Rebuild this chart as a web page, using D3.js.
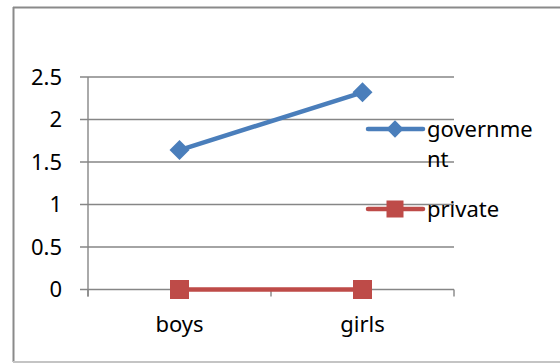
<!DOCTYPE html>
<html>
<head>
<meta charset="utf-8">
<script src="https://cdn.jsdelivr.net/npm/d3@7/dist/d3.min.js"></script>
<style>
  html, body { margin: 0; padding: 0; background: #fff; }
  svg { display: block; }
  text { font-family: "Noto Sans", "Open Sans", sans-serif; fill: #000; }
</style>
</head>
<body>
<div id="chart"></div>
<script>
// Categories on the x axis
const categories = ["boys", "girls"];
// Series values (one per category)
const governmentValues = [1.64, 2.32];
const privateValues = [0, 0];
// Y axis ticks
const yTicks = [0, 0.5, 1, 1.5, 2, 2.5];
// Legend entries
const legendLines = [["governme", "nt"], ["private"]];

const W = 560, H = 363;
const svg = d3.select("#chart").append("svg").attr("width", W).attr("height", H);

// Outer frame
svg.append("line").attr("x1", 13.5).attr("x2", 13.5).attr("y1", 7).attr("y2", 362)
  .attr("stroke", "#8a8a8a").attr("stroke-width", 2);
svg.append("line").attr("x1", 13).attr("x2", 560).attr("y1", 7.5).attr("y2", 7.5)
  .attr("stroke", "#8a8a8a").attr("stroke-width", 2);
svg.append("line").attr("x1", 13).attr("x2", 560).attr("y1", 362).attr("y2", 362)
  .attr("stroke", "#c4c4c4").attr("stroke-width", 2);

const plotLeft = 88, plotRight = 454, plotTop = 77, plotBottom = 289.5;

const x = d3.scaleBand().domain(categories).range([plotLeft, plotRight]);
const y = d3.scaleLinear().domain([0, 2.5]).range([plotBottom, plotTop]);

const gridColor = "#868686";

// Horizontal gridlines (extend left of axis as tick marks)
svg.append("g").selectAll("line").data(yTicks).join("line")
  .attr("x1", plotLeft - 8).attr("x2", plotRight)
  .attr("y1", d => y(d)).attr("y2", d => y(d))
  .attr("stroke", gridColor).attr("stroke-width", 1.4);

// Y axis line
svg.append("line").attr("x1", plotLeft).attr("x2", plotLeft)
  .attr("y1", y(2.5)).attr("y2", plotBottom + 7)
  .attr("stroke", gridColor).attr("stroke-width", 1.4);

// X axis tick marks at category boundaries
const boundaries = categories.map(c => x(c)).concat([x(categories[categories.length - 1]) + x.bandwidth()]);
svg.append("g").selectAll("line").data(boundaries).join("line")
  .attr("x1", d => d).attr("x2", d => d)
  .attr("y1", plotBottom).attr("y2", plotBottom + 7)
  .attr("stroke", gridColor).attr("stroke-width", 1.4);

// Y tick labels
svg.append("g").selectAll("text").data(yTicks).join("text")
  .attr("x", 62).attr("y", d => y(d)).attr("dy", "0.36em")
  .attr("text-anchor", "end").attr("font-size", 22)
  .text(d => d);

// X category labels
svg.append("g").selectAll("text").data(categories).join("text")
  .attr("x", d => x(d) + x.bandwidth() / 2).attr("y", 332)
  .attr("text-anchor", "middle").attr("font-size", 22)
  .text(d => d);

const blue = "#4a7ebb", red = "#be4b48";
const cx = c => x(c) + x.bandwidth() / 2;
const line = d3.line().x((d, i) => cx(categories[i])).y(d => y(d));

// Government series
svg.append("path").datum(governmentValues).attr("d", line)
  .attr("fill", "none").attr("stroke", blue).attr("stroke-width", 4.5).attr("stroke-linecap", "round");
svg.append("g").selectAll("path").data(governmentValues).join("path")
  .attr("d", d3.symbol().type(d3.symbolSquare).size(200))
  .attr("transform", (d, i) => `translate(${cx(categories[i])},${y(d)}) rotate(45)`)
  .attr("fill", blue);

// Private series
svg.append("path").datum(privateValues).attr("d", line)
  .attr("fill", "none").attr("stroke", red).attr("stroke-width", 4.5).attr("stroke-linecap", "round");
svg.append("g").selectAll("rect").data(privateValues).join("rect")
  .attr("x", (d, i) => cx(categories[i]) - 9.5).attr("y", d => y(d) - 9.5)
  .attr("width", 19).attr("height", 19).attr("fill", red);

// Legend
const legendY = [129, 209];
const legendColors = [blue, red];
legendY.forEach((ly, i) => {
  const g = svg.append("g");
  g.append("line").attr("x1", 368).attr("x2", 423).attr("y1", ly).attr("y2", ly)
    .attr("stroke", legendColors[i]).attr("stroke-width", 4.5).attr("stroke-linecap", "round");
  if (i === 0) {
    g.append("path").attr("d", d3.symbol().type(d3.symbolSquare).size(150))
      .attr("transform", `translate(395,${ly}) rotate(45)`).attr("fill", blue);
  } else {
    g.append("rect").attr("x", 395 - 8.5).attr("y", ly - 8.5)
      .attr("width", 17).attr("height", 17).attr("fill", red);
  }
  const t = g.append("text").attr("x", 427).attr("y", ly + 8).attr("font-size", 22);
  legendLines[i].forEach((s, k) => {
    t.append("tspan").attr("x", 427).attr("dy", k === 0 ? 0 : 30).text(s);
  });
});
</script>
</body>
</html>
